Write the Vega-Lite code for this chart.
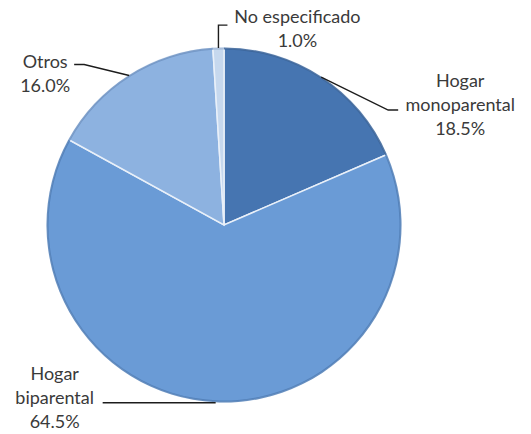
{
  "$schema": "https://vega.github.io/schema/vega-lite/v6.json",
  "width": 531,
  "height": 434,
  "autosize": {"type": "none"},
  "padding": 0,
  "background": "#ffffff",
  "config": {"view": {"stroke": null}},
  "data": {
    "values": [
      {"orden": 1, "categoria": "Hogar monoparental", "porcentaje": 18.5},
      {"orden": 2, "categoria": "Hogar biparental", "porcentaje": 64.5},
      {"orden": 3, "categoria": "Otros", "porcentaje": 16.0},
      {"orden": 4, "categoria": "No especificado", "porcentaje": 1.0}
    ]
  },
  "transform": [
    {"joinaggregate": [{"op": "sum", "field": "porcentaje", "as": "total"}]},
    {"window": [{"op": "sum", "field": "porcentaje", "as": "acumulado"}], "sort": [{"field": "orden"}], "frame": [null, 0]},
    {"calculate": "(datum.acumulado - datum.porcentaje / 2) / datum.total * 2 * PI", "as": "angulo"},
    {"calculate": "sin(datum.angulo)", "as": "bx"},
    {"calculate": "cos(datum.angulo)", "as": "by"},
    {"calculate": "replace(datum.categoria, 'Hogar ', 'Hogar\\n') + '\\n' + format(datum.porcentaje, '.1f') + '%'", "as": "rotulo"}
  ],
  "layer": [
    {
      "mark": {"type": "arc", "radius": 177, "stroke": "#e9f0f9", "strokeWidth": 1.5},
      "encoding": {
        "x": {"datum": 0, "type": "quantitative", "scale": {"domain": [-1.26554, 1.73446], "nice": false, "zero": false}, "axis": null},
        "y": {"datum": 0, "type": "quantitative", "scale": {"domain": [-1.18079, 1.27119], "nice": false, "zero": false}, "axis": null},
        "theta": {"field": "porcentaje", "type": "quantitative", "stack": true},
        "order": {"field": "orden", "type": "quantitative"},
        "color": {
          "field": "categoria",
          "type": "nominal",
          "scale": {
            "domain": ["Hogar monoparental", "Hogar biparental", "Otros", "No especificado"],
            "range": ["#4675b1", "#6a9bd6", "#8db2e0", "#c6d8ee"]
          },
          "legend": null
        }
      }
    },
    {
      "mark": {"type": "arc", "radius": 177.5, "radius2": 175.5, "opacity": 0.85},
      "encoding": {
        "x": {"datum": 0, "type": "quantitative", "axis": null},
        "y": {"datum": 0, "type": "quantitative", "axis": null},
        "theta": {"field": "porcentaje", "type": "quantitative", "stack": true},
        "order": {"field": "orden", "type": "quantitative"},
        "fill": {
          "field": "categoria",
          "type": "nominal",
          "scale": {
            "domain": ["Hogar monoparental", "Hogar biparental", "Otros", "No especificado"],
            "range": ["#3a6398", "#4f7cb5", "#6d92c2", "#9fb6d6"]
          },
          "legend": null
        }
      }
    },
    {
      "mark": {"type": "point", "filled": false, "size": 40000, "stroke": "#1c1c1c", "strokeWidth": 1.4, "opacity": 1},
      "encoding": {
        "x": {"field": "bx", "type": "quantitative", "axis": null},
        "y": {"field": "by", "type": "quantitative", "axis": null},
        "shape": {
          "field": "categoria",
          "type": "nominal",
          "scale": {
            "domain": ["Hogar monoparental", "Hogar biparental", "Otros", "No especificado"],
            "range": [
              "M0,0L0.67,0.33L0.77,0.33",
              "M0,0.01L-1.13,0.01",
              "M0,0L-0.45,-0.11L-0.55,-0.11",
              "M0,0L0,-0.23L0.09,-0.23"
            ]
          },
          "legend": null
        }
      }
    },
    {
      "transform": [{"filter": "datum.orden == 1"}],
      "mark": {"type": "text", "dx": 139, "dy": 5, "align": "center", "baseline": "middle", "lineBreak": "\n", "lineHeight": 24, "font": "Lato", "fontSize": 18, "fill": "#3a3a3a"},
      "encoding": {
        "x": {"field": "bx", "type": "quantitative", "axis": null},
        "y": {"field": "by", "type": "quantitative", "axis": null},
        "text": {"field": "rotulo"}
      }
    },
    {
      "transform": [{"filter": "datum.orden == 2"}],
      "mark": {"type": "text", "dx": -161, "dy": -27, "align": "center", "baseline": "middle", "lineBreak": "\n", "lineHeight": 24, "font": "Lato", "fontSize": 18, "fill": "#3a3a3a"},
      "encoding": {
        "x": {"field": "bx", "type": "quantitative", "axis": null},
        "y": {"field": "by", "type": "quantitative", "axis": null},
        "text": {"field": "rotulo"}
      }
    },
    {
      "transform": [{"filter": "datum.orden == 3"}],
      "mark": {"type": "text", "dx": -84, "dy": -12.6, "align": "center", "baseline": "middle", "lineBreak": "\n", "lineHeight": 24, "font": "Lato", "fontSize": 18, "fill": "#3a3a3a"},
      "encoding": {
        "x": {"field": "bx", "type": "quantitative", "axis": null},
        "y": {"field": "by", "type": "quantitative", "axis": null},
        "text": {"field": "rotulo"}
      }
    },
    {
      "transform": [{"filter": "datum.orden == 4"}],
      "mark": {"type": "text", "dx": 79, "dy": -30, "align": "center", "baseline": "middle", "lineBreak": "\n", "lineHeight": 24, "font": "Lato", "fontSize": 18, "fill": "#3a3a3a"},
      "encoding": {
        "x": {"field": "bx", "type": "quantitative", "axis": null},
        "y": {"field": "by", "type": "quantitative", "axis": null},
        "text": {"field": "rotulo"}
      }
    }
  ]
}
